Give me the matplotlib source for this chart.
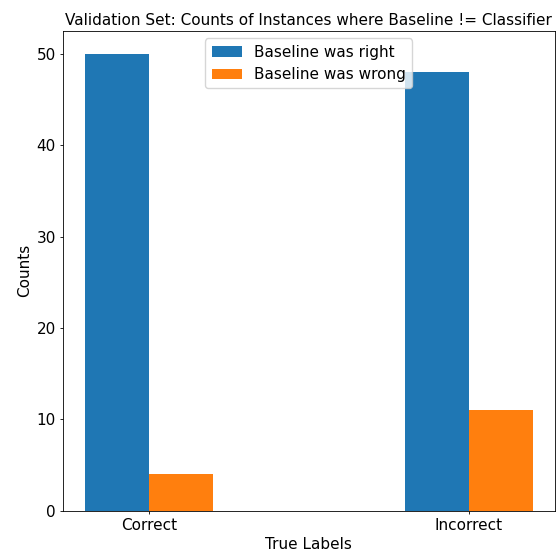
import numpy as np
import matplotlib
matplotlib.use("Agg")
import matplotlib.pyplot as plt

labels = ["Correct", "Incorrect"]
baseline_right = [50, 48]
baseline_wrong = [4, 11]

# smaller pads and tick marks, as in the reference
plt.rcParams.update({
    "xtick.major.size": 2.5,
    "ytick.major.size": 2.5,
    "xtick.major.pad": 2.5,
    "ytick.major.pad": 2.5,
    "axes.titlepad": 4.3,
    "axes.labelpad": 2.9,
    "axes.linewidth": 0.6,
    "xtick.major.width": 0.6,
    "ytick.major.width": 0.6,
})

x = np.arange(len(labels))
width = 0.2

fig, ax = plt.subplots(figsize=(5.56, 5.51), dpi=100)
ax.bar(x - width / 2, baseline_right, width, label="Baseline was right")
ax.bar(x + width / 2, baseline_wrong, width, label="Baseline was wrong")

ax.set_title("Validation Set: Counts of Instances where Baseline != Classifier", fontsize=11)
ax.set_xlabel("True Labels", fontsize=11)
ax.set_ylabel("Counts", fontsize=11)
ax.set_xticks(x)
ax.set_xticklabels(labels)
ax.tick_params(labelsize=11)
ax.legend(loc="upper center", fontsize=11)

plt.subplots_adjust(left=0.113, right=0.998, top=0.944, bottom=0.073)
plt.savefig("out.png", dpi=100)
